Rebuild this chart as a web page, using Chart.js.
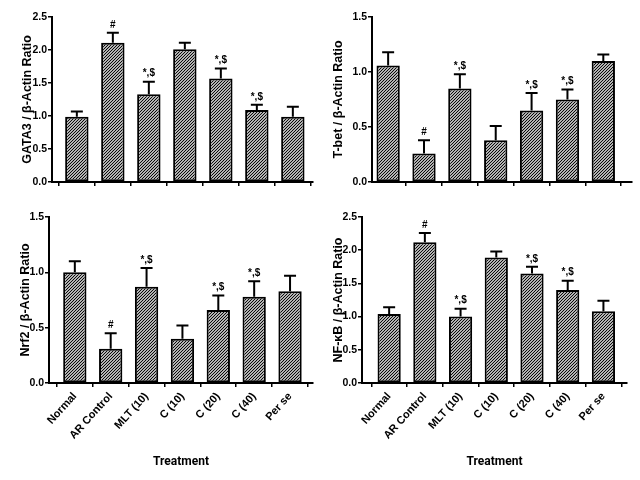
<!DOCTYPE html>
<html>
<head>
<meta charset="utf-8">
<script src="https://cdn.jsdelivr.net/npm/chart.js@4"></script>
<style>
  body { margin: 0; background: #fff; }
  #wrap { position: relative; width: 640px; height: 480px; }
  #wrap canvas { position: absolute; }
</style>
</head>
<body>
<div id="wrap">
  <canvas id="c1" width="320" height="200" style="left:0;top:0"></canvas>
  <canvas id="c2" width="320" height="200" style="left:320px;top:0"></canvas>
  <canvas id="c3" width="320" height="280" style="left:0;top:200px"></canvas>
  <canvas id="c4" width="320" height="280" style="left:320px;top:200px"></canvas>
</div>
<script>
const categories = ['Normal', 'AR Control', 'MLT (10)', 'C (10)', 'C (20)', 'C (40)', 'Per se'];

const gata3Mean = [0.99, 2.11, 1.33, 2.01, 1.57, 1.09, 0.99];
const gata3Sem  = [0.08, 0.15, 0.19, 0.10, 0.15, 0.08, 0.15];

const tbetMean = [1.06, 0.26, 0.85, 0.38, 0.65, 0.75, 1.10];
const tbetSem  = [0.12, 0.12, 0.13, 0.13, 0.16, 0.09, 0.06];

const nrf2Mean = [1.00, 0.31, 0.87, 0.40, 0.66, 0.78, 0.83];
const nrf2Sem  = [0.10, 0.14, 0.17, 0.12, 0.13, 0.14, 0.14];

const nfkbMean = [1.04, 2.12, 1.00, 1.89, 1.65, 1.40, 1.08];
const nfkbSem  = [0.10, 0.14, 0.12, 0.09, 0.10, 0.14, 0.16];

const marks = ['', '#', '*,$', '', '*,$', '*,$', ''];

const yTicks25 = [0, 0.5, 1.0, 1.5, 2.0, 2.5];
const yTicks15 = [0, 0.5, 1.0, 1.5];

// diagonal hatch like the GraphPad bars
function hatch() {
  const t = document.createElement('canvas');
  t.width = 3; t.height = 3;
  const g = t.getContext('2d');
  g.fillStyle = '#fff';
  g.fillRect(0, 0, 3, 3);
  g.strokeStyle = '#000';
  g.lineWidth = 1.15;
  g.beginPath();
  g.moveTo(-1, 4); g.lineTo(4, -1);
  g.moveTo(-1, 1); g.lineTo(1, -1);
  g.moveTo(2, 4); g.lineTo(4, 2);
  g.stroke();
  return g.createPattern(t, 'repeat');
}

const errorBars = {
  id: 'errorBars',
  afterDatasetsDraw(chart, args, opts) {
    const { ctx, scales: { x, y } } = chart;
    ctx.save();
    ctx.strokeStyle = '#000';
    ctx.lineWidth = 2;
    ctx.fillStyle = '#000';
    ctx.font = 'bold 10px "Liberation Sans", Arial, sans-serif';
    ctx.textAlign = 'center';
    ctx.textBaseline = 'bottom';
    opts.mean.forEach((m, i) => {
      const px = x.getPixelForValue(i);
      const y0 = y.getPixelForValue(m);
      const y1 = y.getPixelForValue(m + opts.sem[i]);
      ctx.beginPath();
      ctx.moveTo(px, y0); ctx.lineTo(px, y1);
      ctx.moveTo(px - 6, y1); ctx.lineTo(px + 6, y1);
      ctx.stroke();
      if (opts.marks[i]) ctx.fillText(opts.marks[i], px, y1 - 3);
    });
    ctx.restore();
  }
};

const panels = [
  { id: 'c1', title: 'GATA3 / β-Actin Ratio', mean: gata3Mean, sem: gata3Sem, ticks: yTicks25,
    xMin: -0.69, xMax: 6.56, yW: 52, tC: 28, right: 7, h: 200, bottom: 182, labels: false },
  { id: 'c2', title: 'T-bet / β-Actin Ratio', mean: tbetMean, sem: tbetSem, ticks: yTicks15,
    xMin: -0.45, xMax: 6.8, yW: 52, tC: 19, right: 8, h: 200, bottom: 182, labels: false },
  { id: 'c3', title: 'Nrf2 / β-Actin Ratio', mean: nrf2Mean, sem: nrf2Sem, ticks: yTicks15,
    xMin: -0.72, xMax: 6.64, yW: 49, tC: 26, right: 7, h: 280, bottom: 183, labels: true },
  { id: 'c4', title: 'NF-κB / β-Actin Ratio', mean: nfkbMean, sem: nfkbSem, ticks: yTicks25,
    xMin: -0.76, xMax: 6.66, yW: 42, tC: 19, right: 13, h: 280, bottom: 183, labels: true }
];

const tickFont = { family: '"Liberation Sans", Arial, sans-serif', weight: 'bold', size: 10.5 };

panels.forEach(p => {
  const yMax = p.ticks[p.ticks.length - 1];
  new Chart(document.getElementById(p.id), {
    type: 'bar',
    data: {
      datasets: [{
        data: p.mean.map((v, i) => ({ x: i, y: v })),
        backgroundColor: hatch(),
        borderColor: '#000',
        borderWidth: 2,
        borderSkipped: false,
        barPercentage: 0.65,
        categoryPercentage: 1
      }]
    },
    options: {
      responsive: false,
      animation: false,
      layout: { padding: { top: 17, right: p.right, left: 0, bottom: 0 } },
      plugins: {
        legend: { display: false },
        tooltip: { enabled: false },
        errorBars: { mean: p.mean, sem: p.sem, marks: marks }
      },
      scales: {
        x: {
          type: 'linear',
          offset: false,
          min: p.xMin,
          max: p.xMax,
          afterFit: s => { s.height = p.h - p.bottom; },
          grid: { display: true, drawOnChartArea: false, drawTicks: true, tickLength: 4, color: '#000', lineWidth: 1.5 },
          border: { display: true, color: '#000', width: 2 },
          ticks: {
            display: p.labels,
            stepSize: 1,
            includeBounds: false,
            autoSkip: false,
            minRotation: 48,
            maxRotation: 48,
            padding: 3,
            color: '#000',
            font: { family: '"Liberation Sans", Arial, sans-serif', weight: 'bold', size: 11 },
            callback: v => categories[v]
          },
          title: {
            display: p.labels,
            text: 'Treatment',
            color: '#000',
            font: { family: '"Liberation Sans Narrow", Roboto, "Liberation Sans", sans-serif', weight: 'bold', size: 12 },
            padding: { top: 0, bottom: 11 }
          }
        },
        y: {
          min: 0,
          max: yMax,
          afterFit: s => { s.width = p.yW; },
          afterBuildTicks: s => { s.ticks = p.ticks.map(v => ({ value: v })); },
          grid: { display: true, drawOnChartArea: false, drawTicks: true, tickLength: 4, color: '#000', lineWidth: 1.5 },
          border: { display: true, color: '#000', width: 2 },
          ticks: {
            padding: 1,
            color: '#000',
            font: tickFont,
            callback: v => v.toFixed(1)
          },
          title: {
            display: true,
            text: p.title,
            color: '#000',
            font: { family: '"Liberation Sans", Arial, sans-serif', weight: 'bold', size: 12.5 },
            padding: { top: p.tC - 7.5, bottom: 0 }
          }
        }
      }
    },
    plugins: [errorBars]
  });
});
</script>
</body>
</html>
